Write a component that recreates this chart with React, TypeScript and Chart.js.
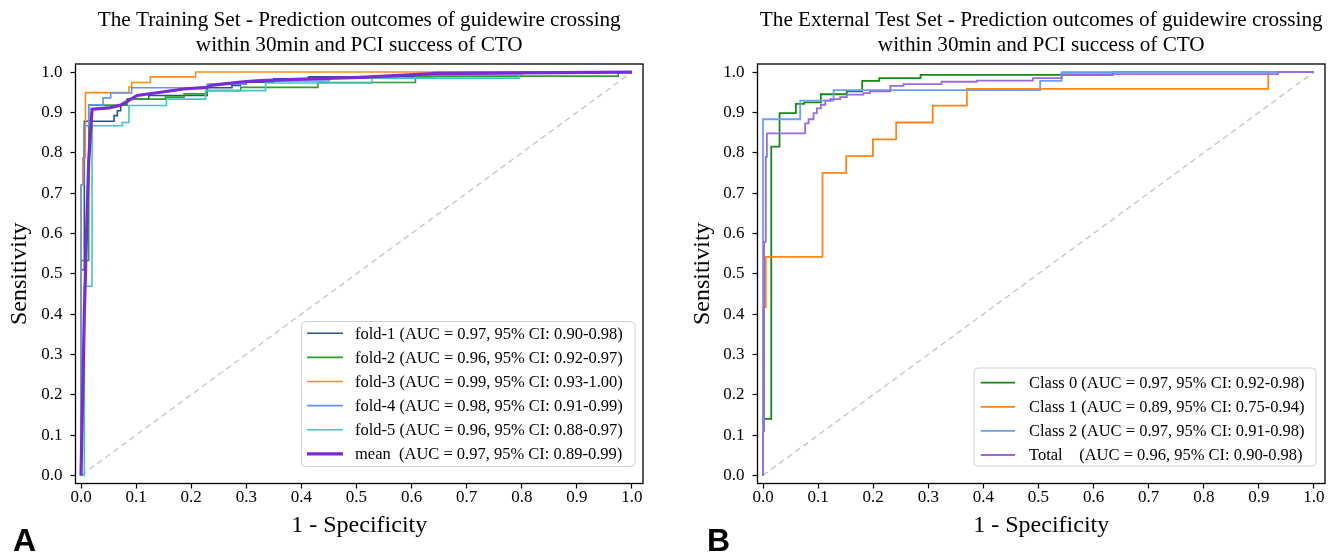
import React, { useEffect, useRef } from "react";
import { Chart, registerables } from "chart.js";

Chart.register(...registerables);

const SERIF = "'Liberation Serif', 'Times New Roman', serif";

const xTickValues = [0, 0.1, 0.2, 0.3, 0.4, 0.5, 0.6, 0.7, 0.8, 0.9, 1.0];
const yTickValues = [0, 0.1, 0.2, 0.3, 0.4, 0.5, 0.6, 0.7, 0.8, 0.9, 1.0];
const diagX = [0, 1];
const diagY = [0, 1];

// ---------- Training set (panel A) ----------
const trainTitle = [
  "The Training Set - Prediction outcomes of guidewire crossing",
  "within 30min and PCI success of CTO",
];
const trainLabels = [
  "fold-1 (AUC = 0.97, 95% CI: 0.90-0.98)",
  "fold-2 (AUC = 0.96, 95% CI: 0.92-0.97)",
  "fold-3 (AUC = 0.99, 95% CI: 0.93-1.00)",
  "fold-4 (AUC = 0.98, 95% CI: 0.91-0.99)",
  "fold-5 (AUC = 0.96, 95% CI: 0.88-0.97)",
  "mean  (AUC = 0.97, 95% CI: 0.89-0.99)",
];
const fold1X = [0, 0, 0.006, 0.006, 0.06, 0.06, 0.066, 0.066, 0.072, 0.072, 0.084, 0.084, 0.123, 0.123, 0.229, 0.229, 0.274, 0.274, 0.289, 0.289, 0.35, 0.35, 0.413, 0.413, 0.64, 0.64, 1.0];
const fold1Y = [0, 0.51, 0.51, 0.878, 0.878, 0.892, 0.892, 0.904, 0.904, 0.919, 0.919, 0.933, 0.933, 0.942, 0.942, 0.961, 0.961, 0.967, 0.967, 0.975, 0.975, 0.983, 0.983, 0.988, 0.988, 1.0, 1.0];
const fold2X = [0, 0, 0.014, 0.014, 0.084, 0.084, 0.153, 0.153, 0.187, 0.187, 0.229, 0.229, 0.29, 0.29, 0.43, 0.43, 0.607, 0.607, 0.975, 0.975, 1.0];
const fold2Y = [0, 0.533, 0.533, 0.918, 0.918, 0.933, 0.933, 0.938, 0.938, 0.946, 0.946, 0.954, 0.954, 0.962, 0.962, 0.974, 0.974, 0.99, 0.99, 1.0, 1.0];
const fold3X = [0, 0, 0.003, 0.003, 0.008, 0.008, 0.087, 0.087, 0.092, 0.092, 0.126, 0.126, 0.208, 0.208, 1.0];
const fold3Y = [0, 0.72, 0.72, 0.787, 0.787, 0.949, 0.949, 0.963, 0.963, 0.974, 0.974, 0.988, 0.988, 1.0, 1.0];
const fold4X = [0, 0, 0.005, 0.005, 0.014, 0.014, 0.04, 0.04, 0.054, 0.054, 0.092, 0.092, 0.229, 0.229, 0.3, 0.3, 0.45, 0.45, 0.64, 0.64, 0.8, 0.8, 1.0];
const fold4Y = [0, 0.72, 0.72, 0.867, 0.867, 0.919, 0.919, 0.936, 0.936, 0.948, 0.948, 0.961, 0.961, 0.97, 0.97, 0.978, 0.978, 0.985, 0.985, 0.992, 0.992, 1.0, 1.0];
const fold5X = [0, 0.006, 0.006, 0.02, 0.02, 0.075, 0.075, 0.087, 0.087, 0.155, 0.155, 0.226, 0.226, 0.335, 0.335, 0.528, 0.528, 0.795, 0.795, 1.0];
const fold5Y = [0, 0, 0.469, 0.469, 0.867, 0.867, 0.875, 0.875, 0.917, 0.917, 0.933, 0.933, 0.954, 0.954, 0.973, 0.973, 0.985, 0.985, 1.0, 1.0];
const meanX = [0, 0.003, 0.006, 0.01, 0.014, 0.02, 0.05, 0.072, 0.102, 0.144, 0.186, 0.229, 0.236, 0.289, 0.325, 0.416, 0.507, 0.64, 0.8, 1.0];
const meanY = [0, 0.2, 0.4, 0.6, 0.78, 0.908, 0.911, 0.918, 0.942, 0.95, 0.958, 0.962, 0.967, 0.975, 0.979, 0.983, 0.987, 0.996, 0.998, 1.0];

// ---------- External test set (panel B) ----------
const testTitle = [
  "The External Test Set - Prediction outcomes of guidewire crossing",
  "within 30min and PCI success of CTO",
];
const testLabels = [
  "Class 0 (AUC = 0.97, 95% CI: 0.92-0.98)",
  "Class 1 (AUC = 0.89, 95% CI: 0.75-0.94)",
  "Class 2 (AUC = 0.97, 95% CI: 0.91-0.98)",
  "Total    (AUC = 0.96, 95% CI: 0.90-0.98)",
];
const class0X = [0, 0, 0.015, 0.015, 0.03, 0.03, 0.0596, 0.0596, 0.0747, 0.0747, 0.105, 0.105, 0.152, 0.152, 0.18, 0.18, 0.211, 0.211, 0.286, 0.286, 0.635, 0.635, 1.0];
const class0Y = [0, 0.14, 0.14, 0.815, 0.815, 0.898, 0.898, 0.921, 0.921, 0.925, 0.925, 0.945, 0.945, 0.952, 0.952, 0.978, 0.978, 0.985, 0.985, 0.993, 0.993, 1.0, 1.0];
const class1X = [0, 0, 0.005, 0.005, 0.108, 0.108, 0.151, 0.151, 0.1995, 0.1995, 0.2417, 0.2417, 0.308, 0.308, 0.37, 0.37, 0.917, 0.917, 1.0];
const class1Y = [0, 0.417, 0.417, 0.5417, 0.5417, 0.75, 0.75, 0.7917, 0.7917, 0.8333, 0.8333, 0.875, 0.875, 0.9167, 0.9167, 0.9583, 0.9583, 1.0, 1.0];
const class2X = [0, 0, 0.0675, 0.0675, 0.128, 0.128, 0.503, 0.503, 0.542, 0.542, 1.0];
const class2Y = [0, 0.883, 0.883, 0.929, 0.929, 0.955, 0.955, 0.978, 0.978, 1.0, 1.0];
const totalX = [0, 0, 0.002, 0.002, 0.005, 0.005, 0.007, 0.007, 0.0765, 0.0765, 0.0826, 0.0826, 0.0917, 0.0917, 0.0977, 0.0977, 0.105, 0.105, 0.113, 0.113, 0.122, 0.122, 0.14, 0.14, 0.152, 0.152, 0.182, 0.182, 0.194, 0.194, 0.231, 0.231, 0.255, 0.255, 0.324, 0.324, 0.388, 0.388, 0.49, 0.49, 0.542, 0.542, 0.935, 0.935, 1.0];
const totalY = [0, 0.11, 0.11, 0.579, 0.579, 0.79, 0.79, 0.848, 0.848, 0.873, 0.873, 0.883, 0.883, 0.898, 0.898, 0.91, 0.91, 0.919, 0.919, 0.929, 0.929, 0.933, 0.933, 0.938, 0.938, 0.944, 0.944, 0.948, 0.948, 0.952, 0.952, 0.966, 0.966, 0.97, 0.97, 0.976, 0.976, 0.979, 0.979, 0.985, 0.985, 0.995, 0.995, 1.0, 1.0];

type Series = { label: string; xs: number[]; ys: number[]; color: string; width: number };

type PanelCfg = {
  series: Series[];
  title: string[];
  canvasWidth: number;
  yAxisWidth: number;
  padRight: number;
  yTitlePad: number;
  panelLetter: string;
  panelX: number;
  legend: { left: number; right: number; top: number; bottom: number; firstRow: number; rowGap: number; sx0: number; sx1: number; tx: number };
};

const toPoints = (xs: number[], ys: number[]) => xs.map((x, i) => ({ x, y: ys[i] }));

function makeChart(canvas: HTMLCanvasElement, cfg: PanelCfg) {
  const n = cfg.series.length;
  const datasets: any[] = cfg.series.map((s, i) => ({
    label: s.label,
    data: toPoints(s.xs, s.ys),
    borderColor: s.color,
    backgroundColor: s.color,
    borderWidth: s.width,
    pointRadius: 0,
    fill: false,
    tension: 0,
    order: n - i,
  }));
  datasets.push({
    label: "_diag",
    data: toPoints(diagX, diagY),
    borderColor: "#c4c4c4",
    borderWidth: 1.3,
    borderDash: [6, 4],
    pointRadius: 0,
    fill: false,
    order: n + 5,
  });

  const decor = {
    id: "decor",
    afterDatasetsDraw(chart: any) {
      const { ctx, chartArea: a } = chart;
      ctx.save();
      ctx.strokeStyle = "#000";
      ctx.lineWidth = 1.3;
      ctx.strokeRect(a.left, a.top, a.right - a.left, a.bottom - a.top);
      ctx.restore();
    },
    afterDraw(chart: any) {
      const { ctx, chartArea: a } = chart;
      ctx.save();
      // title
      ctx.fillStyle = "#000";
      ctx.font = `21.2px ${SERIF}`;
      ctx.textAlign = "center";
      ctx.textBaseline = "middle";
      const cx = (a.left + a.right) / 2;
      cfg.title.forEach((t, i) => ctx.fillText(t, cx, 20 + i * 25));
      // legend
      const L = cfg.legend;
      ctx.beginPath();
      const r = 4;
      ctx.moveTo(L.left + r, L.top);
      ctx.lineTo(L.right - r, L.top);
      ctx.quadraticCurveTo(L.right, L.top, L.right, L.top + r);
      ctx.lineTo(L.right, L.bottom - r);
      ctx.quadraticCurveTo(L.right, L.bottom, L.right - r, L.bottom);
      ctx.lineTo(L.left + r, L.bottom);
      ctx.quadraticCurveTo(L.left, L.bottom, L.left, L.bottom - r);
      ctx.lineTo(L.left, L.top + r);
      ctx.quadraticCurveTo(L.left, L.top, L.left + r, L.top);
      ctx.closePath();
      ctx.fillStyle = "rgba(255,255,255,0.85)";
      ctx.fill();
      ctx.strokeStyle = "#d0d0d0";
      ctx.lineWidth = 1;
      ctx.stroke();
      ctx.textAlign = "left";
      ctx.font = `16.5px ${SERIF}`;
      cfg.series.forEach((s, i) => {
        const y = L.firstRow + i * L.rowGap;
        ctx.strokeStyle = s.color;
        ctx.lineWidth = s.width;
        ctx.beginPath();
        ctx.moveTo(L.sx0, y);
        ctx.lineTo(L.sx1, y);
        ctx.stroke();
        ctx.fillStyle = "#000";
        ctx.fillText(s.label, L.tx, y + 1);
      });
      // panel letter
      ctx.font = `bold 32px 'Liberation Sans', Arial, sans-serif`;
      ctx.textBaseline = "alphabetic";
      ctx.fillStyle = "#000";
      ctx.fillText(cfg.panelLetter, cfg.panelX, 551);
      ctx.restore();
    },
  };

  const tickFont = { family: SERIF, size: 17 };
  const gridCfg = { display: true, drawOnChartArea: false, drawTicks: true, tickLength: 5, tickColor: "#000", tickWidth: 1.2 };

  return new Chart(canvas, {
    type: "line",
    data: { datasets },
    plugins: [decor],
    options: {
      responsive: false,
      animation: false,
      devicePixelRatio: 1,
      events: [],
      parsing: false,
      layout: { padding: { left: 0, top: 64, right: cfg.padRight, bottom: 0 } },
      plugins: { legend: { display: false }, tooltip: { enabled: false }, title: { display: false } },
      scales: {
        x: {
          type: "linear",
          min: -0.01,
          max: 1.02,
          afterBuildTicks: (s: any) => {
            s.ticks = xTickValues.map((v) => ({ value: v }));
          },
          afterFit: (s: any) => {
            s.height = 69.5;
          },
          ticks: { callback: (v: any) => Number(v).toFixed(1), font: tickFont, color: "#000", padding: -1, maxRotation: 0, autoSkip: false },
          grid: gridCfg,
          border: { display: false },
          title: { display: true, text: "1 - Specificity", color: "#000", font: { family: SERIF, size: 24, lineHeight: 1 }, padding: { top: 0, bottom: 15 } },
        },
        y: {
          type: "linear",
          min: -0.02,
          max: 1.02,
          afterBuildTicks: (s: any) => {
            s.ticks = yTickValues.map((v) => ({ value: v }));
          },
          afterFit: (s: any) => {
            s.width = cfg.yAxisWidth;
          },
          ticks: { callback: (v: any) => Number(v).toFixed(1), font: tickFont, color: "#000", padding: 8, autoSkip: false },
          grid: gridCfg,
          border: { display: false },
          title: { display: true, text: "Sensitivity", color: "#000", font: { family: SERIF, size: 24, lineHeight: 1 }, padding: { top: cfg.yTitlePad, bottom: 0 } },
        },
      },
    } as any,
  });
}

const trainCfg: PanelCfg = {
  series: [
    { label: trainLabels[0], xs: fold1X, ys: fold1Y, color: "#24548f", width: 1.6 },
    { label: trainLabels[1], xs: fold2X, ys: fold2Y, color: "#2ca02c", width: 1.6 },
    { label: trainLabels[2], xs: fold3X, ys: fold3Y, color: "#ff8c1a", width: 1.6 },
    { label: trainLabels[3], xs: fold4X, ys: fold4Y, color: "#6495ed", width: 1.6 },
    { label: trainLabels[4], xs: fold5X, ys: fold5Y, color: "#3cc8c8", width: 1.6 },
    { label: trainLabels[5], xs: meanX, ys: meanY, color: "#7b2ad9", width: 3.2 },
  ],
  title: trainTitle,
  canvasWidth: 680,
  yAxisWidth: 75.5,
  padRight: 37,
  yTitlePad: 8,
  panelLetter: "A",
  panelX: 13,
  legend: { left: 301.5, right: 635, top: 321.5, bottom: 466.5, firstRow: 333.3, rowGap: 24.1, sx0: 307, sx1: 343, tx: 355 },
};

const testCfg: PanelCfg = {
  series: [
    { label: testLabels[0], xs: class0X, ys: class0Y, color: "#138a13", width: 1.8 },
    { label: testLabels[1], xs: class1X, ys: class1Y, color: "#ff8415", width: 1.8 },
    { label: testLabels[2], xs: class2X, ys: class2Y, color: "#6d9ef0", width: 1.8 },
    { label: testLabels[3], xs: totalX, ys: totalY, color: "#9a6ae0", width: 1.8 },
  ],
  title: testTitle,
  canvasWidth: 659,
  yAxisWidth: 77.5,
  padRight: 14,
  yTitlePad: 11,
  panelLetter: "B",
  panelX: 27,
  legend: { left: 294, right: 636, top: 368, bottom: 466, firstRow: 382.7, rowGap: 24.1, sx0: 300.7, sx1: 335, tx: 349 },
};

function Panel({ cfg, left }: { cfg: PanelCfg; left: number }) {
  const ref = useRef<HTMLCanvasElement | null>(null);
  useEffect(() => {
    if (!ref.current) return;
    const chart = makeChart(ref.current, cfg);
    return () => chart.destroy();
  }, [cfg]);
  return (
    <canvas
      ref={ref}
      width={cfg.canvasWidth}
      height={553}
      style={{ position: "absolute", left, top: 0, width: cfg.canvasWidth, height: 553 }}
    />
  );
}

export default function App() {
  return (
    <div style={{ position: "absolute", left: 0, top: 0, width: 1339, height: 553, background: "#fff", overflow: "hidden" }}>
      <Panel cfg={trainCfg} left={0} />
      <Panel cfg={testCfg} left={680} />
    </div>
  );
}
